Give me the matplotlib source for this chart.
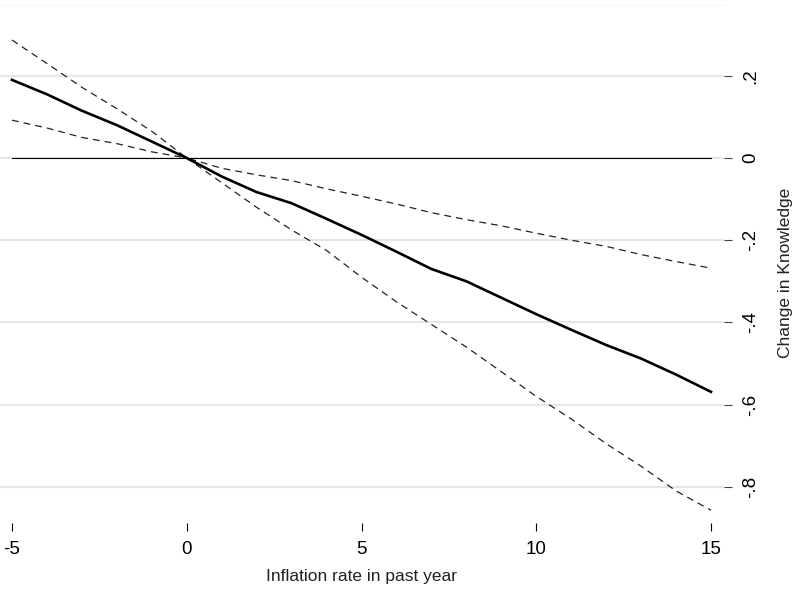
import matplotlib.pyplot as plt
import numpy as np

# inflation rate in past year
inflation = [-5, -4, -3, -2, -1, 0, 1, 2, 3, 4, 5, 6, 7, 8, 9, 10, 11, 12, 13, 14, 15]

# estimated change in knowledge and 95% band
effect = [0.19, 0.155, 0.115, 0.08, 0.04, 0.0, -0.045, -0.083, -0.11, -0.148, -0.187,
          -0.228, -0.27, -0.30, -0.34, -0.38, -0.418, -0.455, -0.488, -0.527, -0.569]
upper = [0.287, 0.23, 0.172, 0.12, 0.065, 0.0, -0.025, -0.041, -0.055, -0.075, -0.093,
         -0.112, -0.133, -0.15, -0.165, -0.183, -0.20, -0.215, -0.235, -0.252, -0.268]
lower = [0.092, 0.073, 0.05, 0.035, 0.015, 0.0, -0.06, -0.12, -0.175, -0.225, -0.29,
         -0.35, -0.405, -0.46, -0.52, -0.58, -0.635, -0.695, -0.75, -0.81, -0.857]

xticks = [-5, 0, 5, 10, 15]
yticks = [0.2, 0, -0.2, -0.4, -0.6, -0.8]
ytick_labels = ['.2', '0', '-.2', '-.4', '-.6', '-.8']

plt.rcParams['font.family'] = ['Liberation Sans', 'DejaVu Sans']

W, H = 808, 606
fig = plt.figure(figsize=(W / 100, H / 100), dpi=100)
ax = fig.add_axes([0, 1 - 523 / H, 724 / W, (523 - 5) / H])

# light horizontal grid
for y in yticks:
    ax.axhline(y, color='#e6e6e6', lw=1.5, zorder=0)

# reference line at zero spans the data range only
ax.plot([inflation[0], inflation[-1]], [0, 0], color='black', lw=0.8, zorder=1)

ax.plot(inflation, upper, color='#222222', lw=0.9, dashes=(5.5, 4), zorder=2)
ax.plot(inflation, lower, color='#222222', lw=0.9, dashes=(5.5, 4), zorder=2)
ax.plot(inflation, effect, color='black', lw=1.9, zorder=3)

ax.set_xlim(-5 - 12 / 35, 15 + 13 / 35)
ax.set_ylim(-(523 - 158) / 411, (158 - 5) / 411)

for side in ['left', 'right', 'bottom']:
    ax.spines[side].set_visible(False)
ax.spines['top'].set_color('#f6f6f6')

ax.yaxis.tick_right()
ax.set_xticks(xticks)
ax.set_xticklabels([str(v) for v in xticks])
ax.set_yticks(yticks)
ax.set_yticklabels(ytick_labels, rotation=90, va='center')

ax.tick_params(axis='x', direction='out', length=6, width=0.8, pad=7, labelsize=13.5)
ax.tick_params(axis='y', direction='out', length=6, width=0.8, pad=7, labelsize=13.5,
               color='#444444')

ax.set_xlabel('Inflation rate in past year', fontsize=12.5, labelpad=8, color='#222222')
ax.set_ylabel('Change in Knowledge', fontsize=12.5, color='#222222', rotation=90,
              va='center', ha='center')
ax.yaxis.set_label_position('right')
ax.yaxis.set_label_coords(778 / 724, (523 - 273) / 518)

fig.savefig('out.png', dpi=100)
